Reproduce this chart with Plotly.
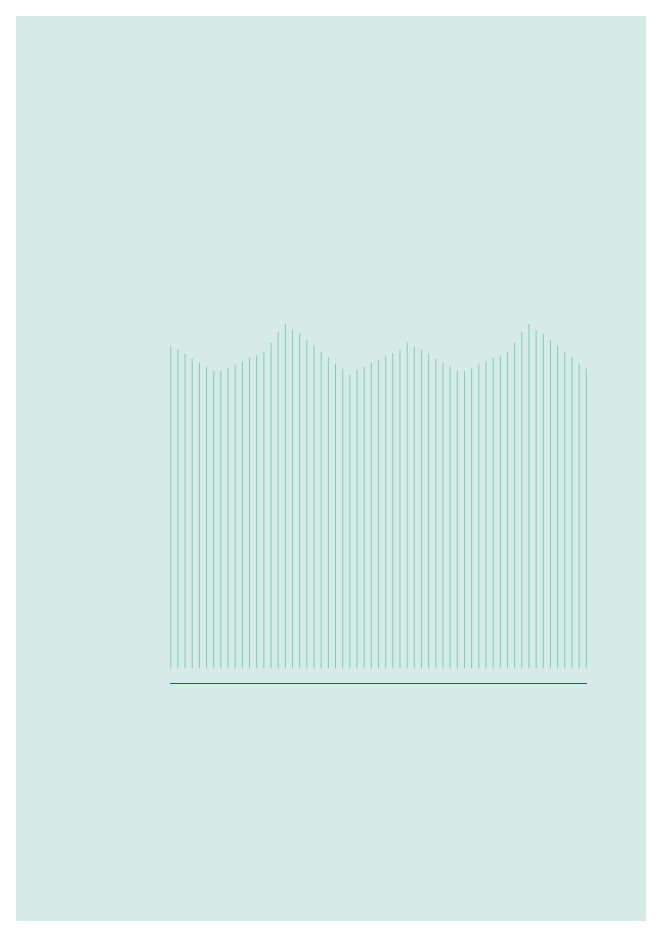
import plotly.graph_objects as go

# Data
categories = list(range(59))
values = [93.4, 92.5, 91.3, 89.9, 88.8, 87.7, 86.4, 86.4, 87.2, 88.2,
          89.1, 90.2, 90.9, 92.0, 94.6, 97.7, 100.0, 98.3, 97.2, 95.4,
          93.7, 92.0, 90.4, 88.5, 87.0, 85.3, 86.6, 87.6, 88.7, 89.6,
          90.8, 91.6, 92.5, 94.7, 93.5, 92.5, 91.3, 89.9, 88.8, 87.7,
          86.4, 86.4, 87.2, 88.2, 89.1, 90.2, 90.9, 92.0, 94.6, 97.7,
          100.0, 98.3, 97.2, 95.4, 93.7, 92.0, 90.4, 88.5, 87.0]

W, H = 661, 937
OFF = 8  # page body margin
ML, MR, MT, MB = 170 - OFF, 74 + OFF, 300 - OFF, 254 + OFF
plot_w = W - ML - MR
plot_h = H - MT - MB

xs, ys = [], []
for c, v in zip(categories, values):
    xs += [c, c, None]
    ys += [0, v, None]

fig = go.Figure()
fig.add_trace(go.Scatter(x=xs, y=ys, mode="lines",
                         line=dict(color="#7fcdbb", width=1),
                         hoverinfo="skip", showlegend=False))

# background panel (screen pixel box 16..646 x 16..921)
def px_x(p):
    return (p - OFF - ML) / plot_w
def px_y(p):
    return (H - MB - (p - OFF)) / plot_h

fig.add_shape(type="rect", xref="paper", yref="paper",
              x0=px_x(16), x1=px_x(646), y0=px_y(921), y1=px_y(16),
              fillcolor="#d6eae7", line=dict(width=0), layer="below")

scale = 3.444
fig.update_layout(
    width=W, height=H, autosize=False,
    margin=dict(l=ML, r=MR, t=MT, b=MB, pad=0),
    paper_bgcolor="white", plot_bgcolor="rgba(0,0,0,0)",
    xaxis=dict(range=[-0.1, 58.1], showgrid=False, zeroline=False,
               showticklabels=False, ticks="", showline=True,
               linecolor="#1a5f9e", linewidth=1.3),
    yaxis=dict(range=[-14.6 / scale, -14.6 / scale + plot_h / scale],
               showgrid=False, zeroline=False, showticklabels=False,
               ticks="", showline=False),
)

fig.write_html("out.html")
